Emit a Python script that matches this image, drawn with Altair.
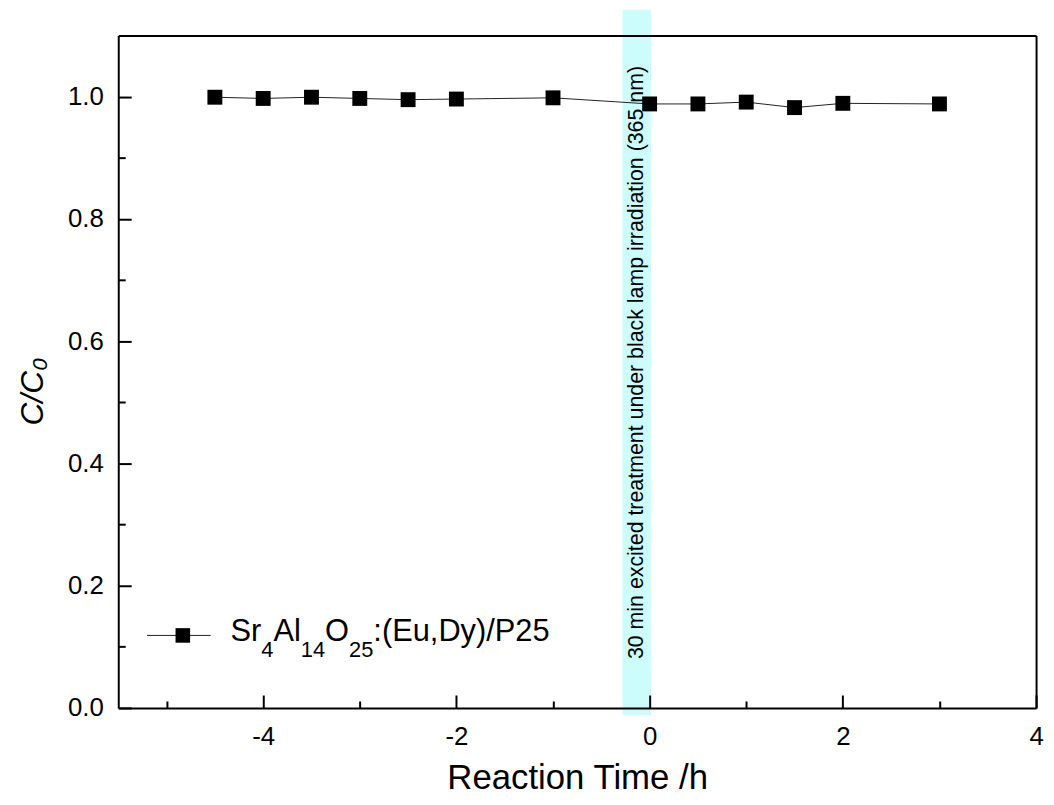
import altair as alt
import pandas as pd

# ---- data ----
time_h = [-4.5, -4, -3.5, -3, -2.5, -2, -1, 0, 0.5, 1, 1.5, 2, 3]
c_ratio = [0.999, 0.997, 0.999, 0.997, 0.995, 0.996, 0.998, 0.988, 0.988, 0.991, 0.982, 0.989, 0.988]

# legend label split into normal / subscript pieces
legend_parts = ["Sr", "4", "Al", "14", "O", "25", ":(Eu,Dy)/P25"]
legend_is_sub = [False, True, False, True, False, True, False]

band_start = [-0.28]
band_end = [0.015]

note_text = ["30 min excited treatment under black lamp irradiation (365 nm)"]
note_x = [-0.135]
note_y = [0.565]

x_major = [-4, -2, 0, 2, 4]
x_minor = [-5, -3, -1, 1, 3]
y_major = [0.0, 0.2, 0.4, 0.6, 0.8, 1.0]
y_minor = [0.1, 0.3, 0.5, 0.7, 0.9]

df = pd.DataFrame({"t": time_h, "c": c_ratio})
band_df = pd.DataFrame({"start": band_start, "end": band_end})
note_df = pd.DataFrame({"x": note_x, "y": note_y, "label": note_text})

W, H = 924, 677
FONT = "Liberation Sans"

# ---- legend text layout (Arial metrics) ----
ARIAL = {"S": .667, "r": .333, "A": .667, "l": .222, "O": .778, ":": .278, "(": .333,
         "E": .667, "u": .556, ",": .278, "D": .722, "y": .5, ")": .333, "/": .278,
         "P": .667}
MAIN_FS, SUB_FS = 31, 22
LEG_TEXT_X, LEG_BASE_Y, SUB_DROP = 113, 610, 16
rows = []
cx = LEG_TEXT_X
for part, sub in zip(legend_parts, legend_is_sub):
    fs = SUB_FS if sub else MAIN_FS
    rows.append({"txt": part, "px": cx, "py": LEG_BASE_Y + (SUB_DROP if sub else 0), "fs": fs})
    cx += sum(ARIAL.get(ch, .556) for ch in part) * fs
legend_df = pd.DataFrame(rows)
legend_sym_df = pd.DataFrame({"k": [0]})

xs = alt.Scale(domain=[-5.5, 4], nice=False, zero=False)
ys = alt.Scale(domain=[0, 1.1], nice=False, zero=False)

common = dict(domainColor="black", tickColor="black", domainWidth=2, tickWidth=2,
              zindex=1, grid=False, labelFlush=False)

x_axis_major = alt.Axis(orient="bottom", values=x_major, tickSize={"expr": "-13"},
                        labelPadding=29,
                        labelExpr="datum.value < 0 ? '-' + abs(datum.value) : '' + datum.value",
                        labelFontSize=26, labelFont=FONT, labelColor="black",
                        title="Reaction Time /h", titleFont=FONT, titleFontSize=35,
                        titleFontWeight="normal", titleColor="black", titlePadding=11,
                        **common)
x_axis_minor = alt.Axis(orient="bottom", values=x_minor, tickSize={"expr": "-7"},
                        labels=False, domain=False, title=None, **common)
x_axis_top = alt.Axis(orient="top", ticks=False, labels=False, domain=True, title=None, **common)

y_axis_major = alt.Axis(orient="left", values=y_major, tickSize={"expr": "-13"},
                        labelPadding=28, format=".1f",
                        labelFontSize=26, labelFont=FONT, labelColor="black",
                        title="C/C\u2080", titleFont=FONT, titleFontSize=32,
                        titleFontStyle="italic", titleFontWeight="normal",
                        titleColor="black", titlePadding=18, titleY=358, **common)
y_axis_minor = alt.Axis(orient="left", values=y_minor, tickSize={"expr": "-7"},
                        labels=False, domain=False, title=None, **common)
y_axis_right = alt.Axis(orient="right", ticks=False, labels=False, domain=True, title=None, **common)

band = alt.Chart(band_df).mark_rect(color="#ccfcfc").encode(
    x=alt.X("start:Q", scale=xs, axis=x_axis_major),
    x2="end:Q",
    y=alt.value(-26),
    y2=alt.value(H + 7),
)

line = alt.Chart(df).mark_line(color="#222222", strokeWidth=1).encode(
    x=alt.X("t:Q", scale=xs, axis=x_axis_minor),
    y=alt.Y("c:Q", scale=ys, axis=y_axis_major),
)

points = alt.Chart(df).mark_point(shape="square", filled=True, size=225, opacity=1,
                                  color="black").encode(
    x=alt.X("t:Q", scale=xs, axis=x_axis_top),
    y=alt.Y("c:Q", scale=ys, axis=y_axis_minor),
)

note = alt.Chart(note_df).mark_text(angle=270, font=FONT, fontSize=21.5, color="black",
                                    align="center", baseline="middle").encode(
    x=alt.X("x:Q", scale=xs, axis=None),
    y=alt.Y("y:Q", scale=ys, axis=y_axis_right),
    text="label:N",
)

# ---- legend (drawn inside the plot, bottom-left) ----
leg_line = alt.Chart(legend_sym_df).mark_rule(color="#222222", strokeWidth=1).encode(
    x=alt.value(29), x2=alt.value(93), y=alt.value(604))
leg_square = alt.Chart(legend_sym_df).mark_point(shape="square", filled=True, size=215,
                                                 opacity=1, color="black").encode(
    x=alt.value(65), y=alt.value(604))
leg_text = alt.Chart(legend_df).mark_text(font=FONT, color="black", align="left",
                                          baseline="alphabetic").encode(
    x=alt.X("px:Q", scale=None, axis=None),
    y=alt.Y("py:Q", scale=None, axis=None),
    size=alt.Size("fs:Q", scale=None, legend=None),
    text="txt:N",
)

chart = alt.layer(band, line, points, note, leg_line, leg_square, leg_text).resolve_axis(
    x="independent", y="independent"
).properties(
    width=W, height=H,
    autosize=alt.AutoSizeParams(type="none"),
    padding={"left": 111, "top": 25, "right": 10, "bottom": 86},
    background="white",
).configure_view(stroke=None)

chart.save("out.html", embed_options={"renderer": "svg", "actions": False})
